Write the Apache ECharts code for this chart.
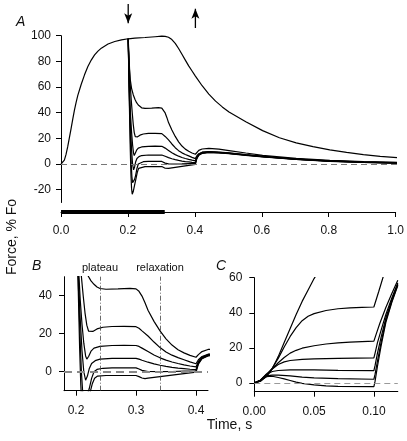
<!DOCTYPE html>
<html><head><meta charset="utf-8">
<script src="https://cdn.jsdelivr.net/npm/echarts@6/dist/echarts.min.js"></script>
<style>html,body{margin:0;padding:0;background:#fff}#c{width:407px;height:441px}</style>
</head><body><div id="c"></div>
<script>
// ---------- Panel A / B data (time s, force % Fo) ----------
const fullForce = [[0,0],[0.005,0.6],[0.01,3],[0.015,7.5],[0.02,13.5],[0.025,20.5],[0.03,27.5],[0.035,35],[0.04,42],[0.045,48],[0.05,53.5],[0.06,62],[0.07,69.5],[0.08,76],[0.09,81],[0.1,85],[0.11,88],[0.12,90.3],[0.14,93.5],[0.16,95.5],[0.18,96.8],[0.2,97.6],[0.22,98.1],[0.25,98.6],[0.28,99.2],[0.3,99.6],[0.31,99.5],[0.32,98.8],[0.33,97],[0.34,94],[0.35,90],[0.36,85.5],[0.37,81],[0.38,76.5],[0.39,72.5],[0.4,68.5],[0.42,61],[0.44,54.5],[0.46,49],[0.48,44.5],[0.5,40.5],[0.55,33],[0.6,26],[0.65,20.5],[0.7,16.5],[0.75,13.5],[0.8,11],[0.85,9],[0.9,7.3],[0.95,6],[1.0,5]];
const rel43 = [[0.2,97.6],[0.201,88],[0.203,76],[0.206,66],[0.21,59],[0.215,54],[0.22,50.5],[0.225,47.8],[0.23,46],[0.235,44.6],[0.24,43.8],[0.25,43.4],[0.27,43.6],[0.29,43.9],[0.3,43.6],[0.305,42.3],[0.31,39.8],[0.315,36.3],[0.32,32.3],[0.33,26.5],[0.34,21.5],[0.35,17.3],[0.36,14],[0.37,11.6],[0.38,9.9],[0.39,8.6],[0.4,7.6],[0.404,9],[0.41,10.6],[0.42,11.7],[0.44,12.2],[0.47,11.6],[0.5,10.5],[0.55,8.6],[0.6,6.8],[0.7,4.4],[0.8,2.8],[0.9,1.8],[1.0,1.2]];
const rel24 = [[0.2,97.6],[0.203,80],[0.206,62],[0.209,50],[0.212,40],[0.215,31],[0.218,24.5],[0.221,21.3],[0.224,20.6],[0.228,21.2],[0.235,22.5],[0.245,23.4],[0.26,23.8],[0.28,23.9],[0.3,23.7],[0.305,22.9],[0.31,21.5],[0.32,18.8],[0.33,15.6],[0.34,12.7],[0.35,10.4],[0.36,8.7],[0.37,7.4],[0.38,6.3],[0.39,5.2],[0.4,4.2],[0.404,6.3],[0.41,8],[0.42,9.2],[0.44,9.7],[0.47,9.3],[0.5,8.7],[0.55,7.3],[0.6,6],[0.7,3.9],[0.8,2.5],[0.9,1.6],[1.0,1]];
const rel14 = [[0.2,97.6],[0.202,76],[0.204,56],[0.207,38],[0.21,25],[0.213,15],[0.216,8.3],[0.218,6.6],[0.221,8],[0.225,10.8],[0.23,12.4],[0.24,13.3],[0.26,13.8],[0.28,13.9],[0.3,13.8],[0.305,13.3],[0.31,12.4],[0.32,10.6],[0.33,8.8],[0.34,7.3],[0.35,6.1],[0.36,5.1],[0.37,4.3],[0.38,3.6],[0.39,3],[0.4,2.5],[0.404,5.4],[0.41,7.6],[0.42,9],[0.44,9.5],[0.47,9.1],[0.5,8.5],[0.55,7.1],[0.6,5.9],[0.7,3.8],[0.8,2.4],[0.9,1.5],[1.0,0.9]];
const rel7 = [[0.2,97.6],[0.202,72],[0.204,50],[0.207,28],[0.21,11],[0.213,0],[0.216,-4.5],[0.219,-2.3],[0.222,1.5],[0.226,4.3],[0.232,5.8],[0.24,6.6],[0.26,7],[0.3,7],[0.305,6.6],[0.31,6],[0.32,5],[0.33,4.1],[0.34,3.4],[0.35,2.8],[0.36,2.3],[0.37,1.9],[0.38,1.6],[0.39,1.3],[0.4,1.1],[0.404,4.8],[0.41,7.3],[0.42,8.7],[0.44,9.2],[0.47,8.9],[0.5,8.3],[0.55,7],[0.6,5.8],[0.7,3.7],[0.8,2.3],[0.9,1.4],[1.0,0.8]];
const rel2 = [[0.2,97.6],[0.202,70],[0.204,45],[0.207,16],[0.209,0],[0.211,-10],[0.213,-14.5],[0.216,-14],[0.219,-12],[0.222,-9],[0.226,-3.5],[0.23,0],[0.235,1.2],[0.245,1.8],[0.26,2],[0.3,2],[0.305,1.4],[0.31,0.7],[0.32,0.1],[0.34,0],[0.36,0.1],[0.38,0.3],[0.4,0.5],[0.404,4.5],[0.41,7],[0.42,8.5],[0.44,9.1],[0.47,8.8],[0.5,8.2],[0.55,6.9],[0.6,5.7],[0.7,3.6],[0.8,2.2],[0.9,1.3],[1.0,0.7]];
const relNeg = [[0.2,97.6],[0.202,68],[0.204,40],[0.206,13],[0.208,-7],[0.21,-19],[0.212,-23.5],[0.215,-21.5],[0.219,-16.5],[0.223,-11.5],[0.227,-6.5],[0.231,-3.4],[0.236,-2.3],[0.25,-2],[0.3,-2],[0.305,-2.6],[0.31,-3.3],[0.315,-3.6],[0.32,-3.4],[0.34,-2.6],[0.36,-1.8],[0.38,-1],[0.4,-0.3],[0.404,4],[0.41,6.8],[0.42,8.3],[0.44,9],[0.47,8.7],[0.5,8.1],[0.55,6.8],[0.6,5.6],[0.7,3.5],[0.8,2.1],[0.9,1.2],[1.0,0.6]];

// ---------- Panel C data ----------
const cFast = [[0,0],[0.005,1],[0.01,3.5],[0.015,8],[0.02,15],[0.025,23],[0.03,31],[0.035,39],[0.04,46.5],[0.045,53],[0.05,59.5],[0.055,65]];
const c43 = [[0,0],[0.005,1],[0.01,4],[0.015,8.5],[0.02,14],[0.025,20.5],[0.03,26.5],[0.035,31.5],[0.04,35.5],[0.045,38],[0.05,39.5],[0.06,41.3],[0.07,42.3],[0.08,42.8],[0.09,43.1],[0.1,43.3],[0.104,52],[0.108,61]];
const c24 = [[0,0],[0.005,1],[0.01,4],[0.015,8],[0.02,11.5],[0.025,14.5],[0.03,17],[0.035,18.6],[0.04,19.8],[0.05,21.2],[0.06,22.2],[0.07,22.8],[0.08,23.3],[0.09,23.6],[0.1,23.8],[0.102,28],[0.105,34],[0.11,43],[0.115,51],[0.12,58.5]];
const c14 = [[0,0],[0.005,1.5],[0.01,5],[0.015,8],[0.02,10.5],[0.025,12],[0.03,12.8],[0.04,13.4],[0.05,13.7],[0.07,14],[0.1,14.3],[0.101,17],[0.103,23],[0.106,30],[0.11,39],[0.115,48.5],[0.12,57]];
const c7 = [[0,0],[0.005,1.5],[0.01,4.8],[0.015,6.5],[0.02,7.1],[0.03,7.4],[0.05,7.4],[0.07,7.2],[0.1,7],[0.101,10],[0.103,17],[0.106,26],[0.11,37],[0.115,47.5],[0.12,56.5]];
const c2 = [[0,0],[0.005,1.5],[0.01,4],[0.015,4.5],[0.02,4.5],[0.03,4],[0.04,3.3],[0.05,2.9],[0.07,2.4],[0.1,2.1],[0.101,5],[0.103,12.5],[0.106,23],[0.11,35.5],[0.115,46.5],[0.12,56]];
const cNeg = [[0,0],[0.005,1.5],[0.01,3.6],[0.015,3.8],[0.02,3.1],[0.025,2.3],[0.03,1.4],[0.035,0.5],[0.04,-0.2],[0.05,-1.1],[0.06,-1.7],[0.07,-2],[0.1,-2.1],[0.101,1],[0.103,9.5],[0.106,21],[0.11,34.5],[0.115,46],[0.12,55.5]];

// ---------- ticks & annotations ----------
const aXTicks = [0,0.2,0.4,0.6,0.8,1.0];
const aYTicks = [-20,0,20,40,60,80,100];
const bXTicks = [0.2,0.3,0.4];
const bYTicks = [0,20,40];
const cXTicks = [0,0.05,0.1];
const cYTicks = [0,20,40,60];
const stimulus = [[0,0],[0.31,0]];
const releaseTime = 0.2;
const restretchTime = 0.4;
const phaseTimes = [0.24,0.34];
const phaseNames = ['plateau','relaxation'];

const FONT = '"Liberation Sans", Arial, Helvetica, sans-serif';
const chart = echarts.init(document.getElementById('c'), null, {renderer:'canvas'});

function valAxis(gi, min, max, ticks, dec, opts) {
  opts = opts || {};
  return Object.assign({
    type:'value', gridIndex:gi, min:min, max:max, show: ticks !== null,
    axisLine:{show:true, onZero:false, lineStyle:{color:'#000', width:1}},
    axisTick:{show:true, inside:false, length:5, customValues: ticks || undefined, lineStyle:{color:'#000', width:1}},
    axisLabel:{show:true, customValues: ticks || undefined, margin: opts.margin || 12, fontSize:12, fontFamily:FONT, color:'#111',
      formatter: v => dec == null ? String(v) : Number(v).toFixed(dec)},
    splitLine:{show:false}
  }, opts.extra || {});
}
function hiddenAxis(gi, min, max) {
  return {type:'value', gridIndex:gi, min:min, max:max, show:false, splitLine:{show:false}};
}
function lineS(data, xi, yi, extra) {
  return Object.assign({type:'line', xAxisIndex:xi, yAxisIndex:yi, data:data, showSymbol:false, symbol:'none',
    lineStyle:{color:'#000', width:1.2}, silent:true, animation:false, z:3}, extra || {});
}
const zeroLine = (color, width, type) => ({silent:true, symbol:'none', animation:false,
  label:{show:false}, lineStyle:{color:color, width:width, type:type}, data:[{yAxis:0}]});

const relSets = [rel43, rel24, rel14, rel7, rel2, relNeg];
const cSets = [cFast, c43, c24, c14, c7, c2, cNeg];

const series = [];
// A
series.push(lineS(fullForce, 0, 0, {markLine: zeroLine('#777', 1, [6,4])}));
relSets.forEach(d => series.push(lineS(d, 0, 0)));
// stimulus bar
series.push(lineS(stimulus, 1, 1, {lineStyle:{color:'#000', width:4}, clip:false}));
// arrows
series.push(lineS([{value:[releaseTime,1], symbol:'none'},{value:[releaseTime,0.2], symbol:'arrow', symbolRotate:180, symbolSize:[6,10]}], 2, 2,
  {showSymbol:true, clip:false, itemStyle:{color:'#000'}, lineStyle:{color:'#000', width:1.3}}));
series.push(lineS([{value:[restretchTime,0], symbol:'none'},{value:[restretchTime,0.8], symbol:'arrow', symbolSize:[6,10]}], 2, 2,
  {showSymbol:true, clip:false, itemStyle:{color:'#000'}, lineStyle:{color:'#000', width:1.3}}));
// B
series.push(lineS(fullForce, 3, 3, {markLine: zeroLine('#888', 1.8, [8,5])}));
relSets.forEach(d => series.push(lineS(d, 3, 3)));
series.push({type:'line', xAxisIndex:3, yAxisIndex:3, data:[], silent:true, animation:false,
  markLine:{silent:true, symbol:'none', animation:false,
    lineStyle:{color:'#444', width:0.8, type:[5,2,1,2]},
    label:{show:true, position:'end', distance:3, fontSize:11, fontFamily:FONT, color:'#111', formatter: p => p.name},
    data: phaseTimes.map((t,i) => ({xAxis:t, name:phaseNames[i]}))}});
// C
series.push(lineS(cSets[0], 4, 4, {markLine: zeroLine('#999', 1, [6,4])}));
cSets.slice(1).forEach(d => series.push(lineS(d, 4, 4)));

const option = {
  animation:false,
  backgroundColor:'#fff',
  textStyle:{fontFamily:FONT},
  grid:[
    {left:61, top:35.7, width:336, height:166.8},
    {left:61, top:204, width:336, height:8},
    {left:61, top:4, width:336, height:24},
    {left:64, top:276.7, width:144, height:114},
    {left:254.3, top:277.7, width:143.5, height:114}
  ],
  xAxis:[
    hiddenAxis(0,0,1),
    valAxis(1,0,1,aXTicks,1,{margin:13}),
    hiddenAxis(2,0,1),
    valAxis(3,0.18,0.42,bXTicks,1,{margin:14}),
    valAxis(4,0,0.12,cXTicks,2,{margin:14})
  ],
  yAxis:[
    valAxis(0,-30,100,aYTicks,null,{margin:10}),
    hiddenAxis(1,0,1),
    hiddenAxis(2,0,1),
    valAxis(3,-10,50,bYTicks,null,{margin:12}),
    valAxis(4,-5,60,cYTicks,null,{margin:12})
  ],
  series: series,
  graphic:[
    {type:'text', left:16, top:15, style:{text:'A', fontSize:14, fontStyle:'italic', fontFamily:FONT, fill:'#111'}},
    {type:'text', left:32, top:259, style:{text:'B', fontSize:14, fontStyle:'italic', fontFamily:FONT, fill:'#111'}},
    {type:'text', left:216, top:259, style:{text:'C', fontSize:14, fontStyle:'italic', fontFamily:FONT, fill:'#111'}},
    {type:'text', x:12, y:237, rotation:Math.PI/2, style:{text:'Force, % Fo', fontSize:14, fontFamily:FONT, fill:'#111', align:'center', verticalAlign:'middle', textAlign:'center', textVerticalAlign:'middle'}},
    {type:'text', x:229.5, y:425, style:{text:'Time, s', fontSize:14, fontFamily:FONT, fill:'#111', align:'center', verticalAlign:'middle', textAlign:'center', textVerticalAlign:'middle'}}
  ]
};
chart.setOption(option);
</script></body></html>
